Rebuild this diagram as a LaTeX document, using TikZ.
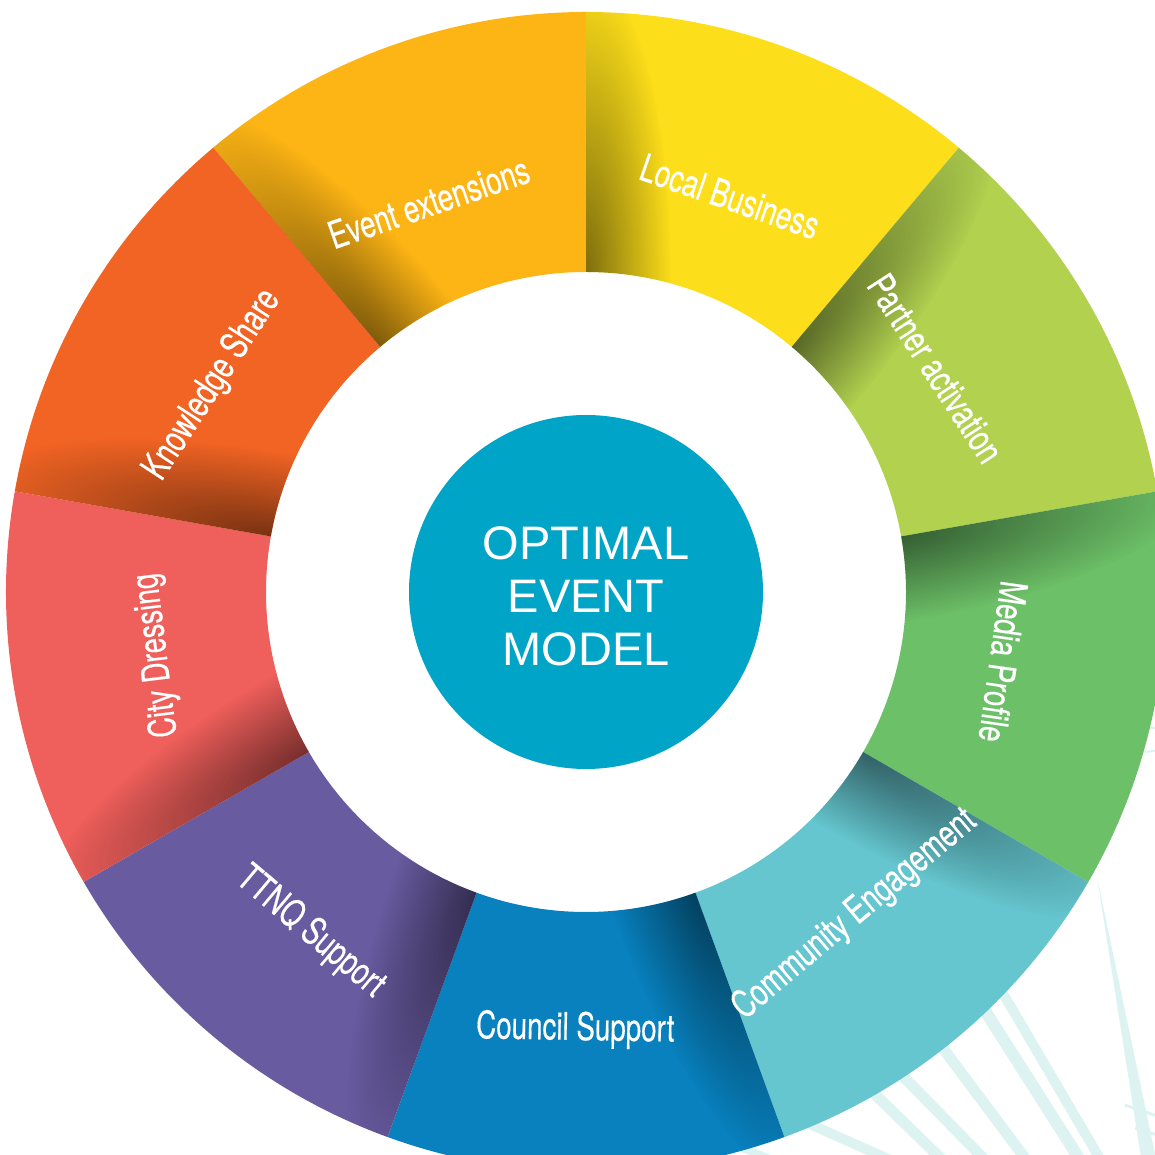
\documentclass[tikz,border=0pt]{standalone}
\usepackage{fontspec}
\setmainfont{Liberation Sans}
\newfontfamily\condfont[FakeStretch=0.73, FakeBold=0.4]{TeX Gyre Heros}
\usetikzlibrary{fadings}

\definecolor{evtcol}{HTML}{FDB515}
\definecolor{loccol}{HTML}{FDDE1A}
\definecolor{parcol}{HTML}{B1D14F}
\definecolor{medcol}{HTML}{6CC067}
\definecolor{comcol}{HTML}{65C6CF}
\definecolor{coucol}{HTML}{0881BE}
\definecolor{ttncol}{HTML}{685BA0}
\definecolor{citcol}{HTML}{EF5F5B}
\definecolor{knocol}{HTML}{F26424}
\definecolor{corecol}{HTML}{00A4C6}
\definecolor{palm}{HTML}{DDF3F1}

\tikzfading[name=foldfade, inner color=transparent!0, outer color=transparent!100]

\begin{document}
\begin{tikzpicture}
    [x=1pt, y=1pt,
    fold/.style={fill=black, opacity=0.5, path fading=foldfade},
    frond/.style={draw=palm, line width=11pt},
    slicelabel/.style={text=white, inner sep=0pt, font=\condfont\fontsize{38}{42}\selectfont},
    core/.style={circle, fill=corecol, minimum size=354pt, inner sep=0pt},
    title/.style={text=white, align=center, inner sep=0pt, font=\fontsize{47}{53}\selectfont}]
        \useasboundingbox (-586,-563) rectangle (569,592);

        %% palm leaves behind the wheel
        \fill[palm] (511,-285) -- (582,-738) -- (606,-738) -- cycle;
        \draw[frond, line width=10pt] (364,-311) -- (544,-618);
        \draw[frond, line width=12pt] (354,-348) -- (524,-615);
        \draw[frond] (294,-372) -- (474,-613);
        \draw[frond] (264,-430) -- (444,-614);
        \draw[frond] (234,-449) -- (409,-619);
        \draw[frond, line width=10pt] (154,-501) -- (354,-590);
        \draw[frond, line width=8pt] (104,-535) -- (214,-579);
        \draw[frond, line width=3pt] (539,-513) -- (574,-525);
        \draw[frond, line width=3pt] (549,-536) -- (574,-544);
        \draw[frond, line width=2pt] (554,-138) -- (574,-135);
        \draw[frond, line width=2pt] (559,-160) -- (574,-158);

        %% the ring of slices
        \fill[evtcol] (90:580) arc[start angle=90, end angle=130, radius=580] -- (130:320) arc[start angle=130, end angle=90, radius=320] -- cycle;
        \fill[loccol] (50:580) arc[start angle=50, end angle=90, radius=580] -- (90:320) arc[start angle=90, end angle=50, radius=320] -- cycle;
        \fill[parcol] (10:580) arc[start angle=10, end angle=50, radius=580] -- (50:320) arc[start angle=50, end angle=10, radius=320] -- cycle;
        \fill[medcol] (-30:580) arc[start angle=-30, end angle=10, radius=580] -- (10:320) arc[start angle=10, end angle=-30, radius=320] -- cycle;
        \fill[comcol] (-70:580) arc[start angle=-70, end angle=-30, radius=580] -- (-30:320) arc[start angle=-30, end angle=-70, radius=320] -- cycle;
        \fill[coucol] (-110:580) arc[start angle=-110, end angle=-70, radius=580] -- (-70:320) arc[start angle=-70, end angle=-110, radius=320] -- cycle;
        \fill[ttncol] (-150:580) arc[start angle=-150, end angle=-110, radius=580] -- (-110:320) arc[start angle=-110, end angle=-150, radius=320] -- cycle;
        \fill[citcol] (170:580) arc[start angle=170, end angle=210, radius=580] -- (210:320) arc[start angle=210, end angle=170, radius=320] -- cycle;
        \fill[knocol] (130:580) arc[start angle=130, end angle=170, radius=580] -- (170:320) arc[start angle=170, end angle=130, radius=320] -- cycle;

        %% each slice folds under its neighbour
        \foreach \a in {130,90,50,10,-30,-70,-110,210,170}
        {
            \begin{scope}[transform canvas={rotate=\a}]
                \clip (0:320) arc[start angle=0, end angle=-40, radius=320] -- (-40:580) arc[start angle=-40, end angle=0, radius=580] -- cycle;
                \fill[fold] (320,0) ellipse [x radius=300, y radius=85];
            \end{scope}
        }

        \node[slicelabel, rotate=19] (evt) at (112:420) {Event extensions};
        \node[slicelabel, rotate=-19] (loc) at (70:421) {Local Business};
        \node[slicelabel, rotate=-57] (par) at (32.6:415) {Partner activation};
        \node[slicelabel, rotate=-98] (med) at (-9.5:423) {Media Profile};
        \node[slicelabel, rotate=40] (com) at (-50.2:420) {Community Engagement};
        \node[slicelabel, rotate=-1] (cou) at (-91.4:438) {Council Support};
        \node[slicelabel, rotate=-40] (ttn) at (231:438) {TTNQ Support};
        \node[slicelabel, rotate=97] (cit) at (188.4:434) {City Dressing};
        \node[slicelabel, rotate=57] (kno) at (151:427) {Knowledge Share};

        %% hub
        \node[core] (hub) at (0,0) {};
        \node[title] (model) at ([yshift=-4pt]hub.center) {OPTIMAL\\EVENT\\MODEL};
    \end{tikzpicture}
\end{document}
